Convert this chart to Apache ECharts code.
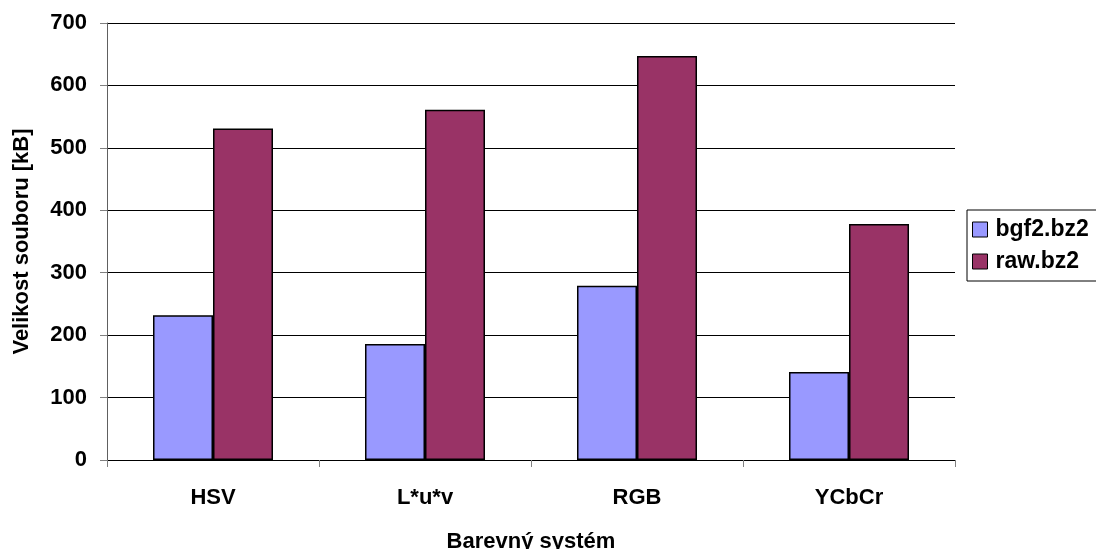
<!DOCTYPE html>
<html>
<head>
<meta charset="utf-8">
<script src="https://cdn.jsdelivr.net/npm/echarts@6/dist/echarts.min.js"></script>
<style>
  html, body { margin: 0; padding: 0; background: #ffffff; }
  #chart { width: 1096px; height: 549px; }
</style>
</head>
<body>
<div id="chart"></div>
<script>
// File sizes per colour system, in kB
const categories = ['HSV', 'L*u*v', 'RGB', 'YCbCr'];
const bgf2Values = [232, 186, 279, 141];
const rawValues = [531, 561, 647, 378];
const seriesNames = ['bgf2.bz2', 'raw.bz2'];

const FONT = 'Liberation Sans, Arial, sans-serif';

const chart = echarts.init(document.getElementById('chart'), null, { renderer: 'canvas' });

const barStyle = (color) => ({ color: color, borderColor: '#000000', borderWidth: 1.5 });

chart.setOption({
  animation: false,
  backgroundColor: '#ffffff',
  grid: { left: 107, right: 141, top: 23, bottom: 89, containLabel: false, outerBoundsMode: 'none' },
  legend: {
    orient: 'vertical',
    left: 967,
    top: 210,
    padding: [8, 20, 8, 5],
    itemGap: 9,
    itemWidth: 15,
    itemHeight: 15,
    borderColor: '#000000',
    borderWidth: 1,
    icon: 'rect',
    itemStyle: { borderColor: '#000000', borderWidth: 1 },
    textStyle: { fontFamily: FONT, fontWeight: 'bold', fontSize: 23, color: '#000000', padding: [0, 0, 0, 3] },
    data: seriesNames
  },
  xAxis: {
    type: 'category',
    data: categories,
    name: 'Barevný systém',
    nameLocation: 'middle',
    nameGap: 71,
    nameTextStyle: { fontFamily: FONT, fontWeight: 'bold', fontSize: 22, color: '#000000' },
    axisLine: { lineStyle: { color: '#000000', width: 1 } },
    axisTick: { show: true, length: 7, lineStyle: { color: '#808080' } },
    axisLabel: { fontFamily: FONT, fontWeight: 'bold', fontSize: 22, color: '#000000', margin: 27 },
    splitLine: { show: false }
  },
  yAxis: {
    type: 'value',
    min: 0,
    max: 700,
    interval: 100,
    name: 'Velikost souboru [kB]',
    nameLocation: 'middle',
    nameGap: 74,
    nameRotate: 90,
    nameTextStyle: { fontFamily: FONT, fontWeight: 'bold', fontSize: 22, color: '#000000' },
    axisLine: { show: true, lineStyle: { color: '#606060', width: 1 } },
    axisTick: { show: true, length: 7, lineStyle: { color: '#808080' } },
    axisLabel: { fontFamily: FONT, fontWeight: 'bold', fontSize: 22, color: '#000000', margin: 20 },
    splitLine: { show: true, lineStyle: { color: '#000000', width: 1 } }
  },
  series: [
    {
      name: seriesNames[0],
      type: 'bar',
      data: bgf2Values,
      barWidth: 60,
      barGap: '0%',
      itemStyle: barStyle('#9999FF')
    },
    {
      name: seriesNames[1],
      type: 'bar',
      data: rawValues,
      barWidth: 60,
      barGap: '0%',
      itemStyle: barStyle('#993366')
    }
  ]
});
</script>
</body>
</html>
